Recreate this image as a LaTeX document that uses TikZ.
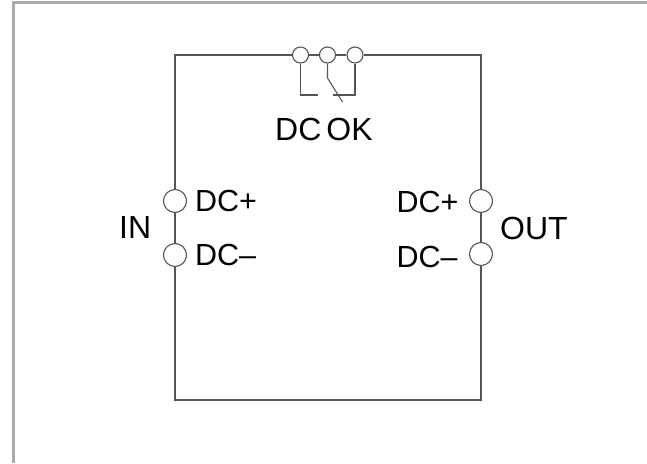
\documentclass[tikz,border=0pt]{standalone}
\usepackage{fontspec}
\setmainfont{Liberation Sans}
\definecolor{framegray}{HTML}{A9ABB2}
\definecolor{wiregray}{HTML}{555555}
\tikzstyle{terminal} = [circle, minimum size = 23pt, inner sep = 0pt, 
	draw = wiregray, line width = 1.1pt]
\tikzstyle{contact} = [terminal, minimum size = 16pt]
\tikzstyle{wire} = [draw = wiregray, line width = 1.1pt]
\tikzstyle{pinname} = [inner sep = 0pt, text = black, font = \fontsize{30.5}{31}\selectfont]
\tikzstyle{bigname} = [pinname, font = \fontsize{32}{33}\selectfont]

\begin{document}
\begin{tikzpicture}[x = 1pt, y = -1pt]

\useasboundingbox (0,0) rectangle (647,463);

% grey frame
\fill [framegray] (12,1) rectangle (647,4);
\fill [framegray] (12,1) rectangle (15,463);

% corners
\coordinate (topleft) at (175,55);
\coordinate (topright) at (481,55);
\coordinate (bottomleft) at (175,400);
\coordinate (bottomright) at (481,400);

% terminals
\node (in0) [terminal] at (175,201) {};
\node (in1) [terminal] at (175,255) {};
\node (out0) [terminal] at (481,201) {};
\node (out1) [terminal] at (481,254) {};
\node (ok0) [contact] at (300.5,55) {};
\node (ok1) [contact] at (327.5,55) {};
\node (ok2) [contact] at (355,55) {};

% housing
\draw [wire] (ok0) -- (topleft) -- (in0);
\draw [wire] (in0) -- (in1);
\draw [wire] (in1) -- (bottomleft) -- (bottomright) -- (out1);
\draw [wire] (out1) -- (out0);
\draw [wire] (out0) -- (topright) -- (ok2);
\draw [wire] (ok0) -- (ok1);
\draw [wire] (ok1) -- (ok2);

% relay
\coordinate (relay0) at (318,95);
\coordinate (relay1) at (333,95);
\coordinate (knee) at (327.5,78);
\coordinate (tip) at (342.5,102);
\draw [wire] (ok0.south) -- (ok0.south |- relay0) -- (relay0);
\draw [wire] (ok2.south) -- (ok2.south |- relay1) -- (relay1);
\draw [wire] (ok1.south) -- (knee) -- (tip);

% labels
\node (dcok) [bigname, anchor = base west] at (275,140) {\spaceskip=5pt DC OK};
\node (inplus) [pinname, anchor = base west] at (195,211.5) {DC+};
\node (inminus) [pinname, anchor = base west] at (195,265) {DC–};
\node (inname) [bigname, anchor = base west] at (119,238) {IN};
\node (outplus) [pinname, anchor = base west] at (396.5,212.5) {DC+};
\node (outminus) [pinname, anchor = base west] at (396.5,267.5) {DC–};
\node (outname) [bigname, anchor = base west] at (500,239) {OUT};

\end{tikzpicture}
\end{document}
